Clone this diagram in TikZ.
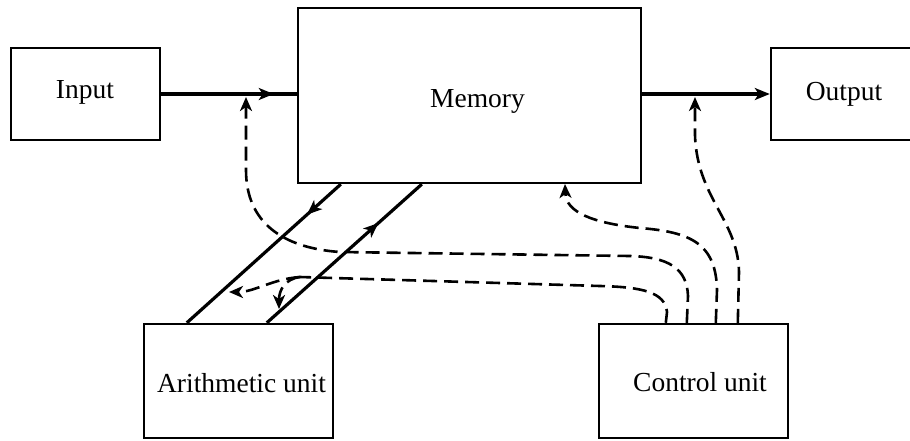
\documentclass[tikz,border=0pt]{standalone}
\usepackage{fontspec}
\setmainfont{Liberation Serif}
\usetikzlibrary{arrows.meta,decorations.markings}

\begin{document}
\begin{tikzpicture}[x=1pt,y=-1pt,
  box/.style={draw, line width=2.4pt, rectangle, inner sep=0pt},
  lbl/.style={font=\fontsize{27.5}{30}\selectfont, anchor=base, inner sep=0pt},
  flow/.style={line width=3.2pt},
  flowtip/.style={-{Stealth[length=15pt,width=12pt,inset=4pt]}},
  dashline/.style={line width=2.6pt, dash pattern=on 14pt off 7pt},
  dashtip/.style={-{Stealth[length=14pt,width=12pt,inset=4pt]}},
  midarrow/.style={postaction={decorate}, decoration={markings,
      mark=at position #1 with {\arrow{Stealth[length=15pt,width=12pt,inset=4pt]}}}},
]
\useasboundingbox (0,0) rectangle (910,440);

% units
\node[box, minimum width=149pt, minimum height=92pt]  (input)  at (85.5,94)  {};
\node[box, minimum width=343pt, minimum height=175pt] (memory) at (469.5,95.5) {};
\node[box, minimum width=149pt, minimum height=92pt]  (output) at (845.5,94) {};
\node[box, minimum width=189pt, minimum height=114pt] (arith)  at (238.5,381) {};
\node[box, minimum width=189pt, minimum height=114pt] (ctrl)   at (693.5,381) {};

% labels
\node[lbl] (inputtext)  at (85,98)     {Input};
\node[lbl] (memorytext) at (477.5,107) {Memory};
\node[lbl] (outputtext) at (844,100)   {Output};
\node[lbl] (arithtext)  at (241.5,392) {Arithmetic unit};
\node[lbl] (ctrltext)   at (700,391)   {Control unit};

% data paths
\draw[flow, midarrow=0.83] (input.east) -- (input.east -| memory.west);
\draw[flow, flowtip] (output.west -| memory.east) -- (output.west);
\draw[flow, midarrow=0.22] ([xshift=44pt]memory.south west) -- ([xshift=44pt]arith.north west);
\draw[flow, midarrow=0.72] ([xshift=124pt]arith.north west) -- ([xshift=125pt]memory.south west);

% control signals
\coordinate (inTap)  at (246,97);
\coordinate (outTap) at (695,97);
\coordinate (memTap) at (565,184);
\coordinate (split)  at (300,277);

\draw[dashline] ([xshift=68pt]ctrl.north west) -- (667,312)
  .. controls (665,292) and (642,287) .. (600,286) -- (split);
\draw[dashline, dashtip] (split) .. controls (272,279) and (255,292) .. (229,292);
\draw[dashline, dashtip] (split) .. controls (285,279) and (279,290) .. (279,309);

\draw[dashline, dashtip] ([xshift=89pt]ctrl.north west) -- (688,296)
  .. controls (687,268) and (668,257) .. (630,256) -- (340,252)
  .. controls (282,248) and (246,222) .. (246,170) -- (inTap);

\draw[dashline, dashtip] ([xshift=118pt]ctrl.north west) -- (717,290)
  .. controls (716,243) and (690,232) .. (640,228)
  .. controls (592,223) and (566,212) .. (memTap);

\draw[dashline, dashtip] ([xshift=140pt]ctrl.north west) -- (739,272)
  .. controls (738,220) and (697,198) .. (695,135) -- (outTap);
\end{tikzpicture}
\end{document}
